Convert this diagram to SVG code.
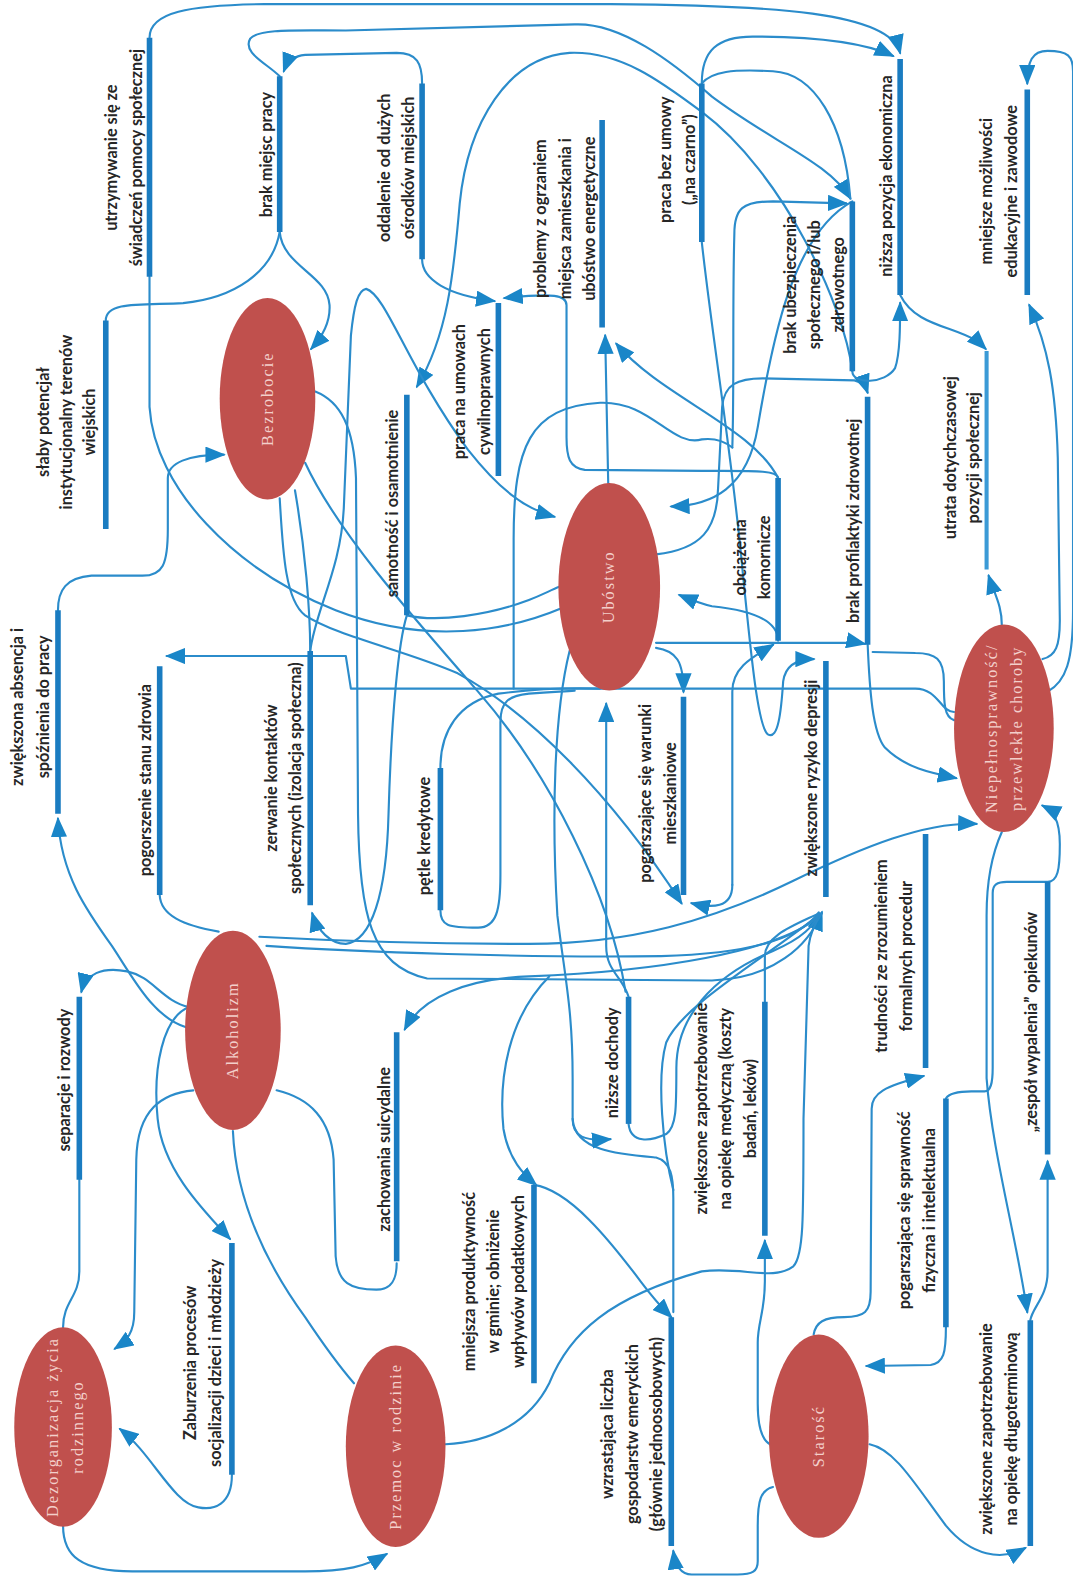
<svg xmlns="http://www.w3.org/2000/svg" width="1073" height="1595" viewBox="0 0 1073 1595">
<style>
.c{fill:none;stroke:#2b8ccb;stroke-width:2.1;stroke-linecap:round;stroke-linejoin:round}
.a{marker-end:url(#ah)}
.bar{stroke:#1a7cc1;stroke-width:5.5;stroke-linecap:butt}
.lbl{font-family:Lato,"Liberation Sans",sans-serif;font-size:16px;font-weight:bold;fill:#262626;text-anchor:middle}
.ell{fill:#c0504d}
.et{font-family:"Liberation Serif","DejaVu Serif",serif;font-size:16px;fill:#f3cfcb;text-anchor:middle;letter-spacing:2px}
</style>
<defs>
<marker id="ah" viewBox="0 0 20 16" refX="18" refY="8" markerWidth="20" markerHeight="16" markerUnits="userSpaceOnUse" orient="auto">
<path d="M0,0 L20,8 L0,16 z" fill="#1a86c8"/>
</marker>
</defs>
<rect width="1073" height="1595" fill="#ffffff"/>
<g transform="scale(1.0171)">
<g id="connectors">
<path class="c a" d="M147,37 C147,12 185,5 260,4 L600,4 C760,5 875,12 885,52"/>
<path class="c a" d="M275,75 C262,62 238,52 246,38 C254,28 290,30 340,30 L565,24 C610,22 660,60 700,95 C760,140 815,160 836,195"/>
<path class="c a" d="M415,82 C415,62 410,52 390,52 L300,54 C288,55 282,62 279,70"/>
<path class="c a" d="M690,82 C690,50 705,36 740,36 C800,36 850,42 878,55"/>
<path class="c" d="M690,82 C700,70 720,68 760,70 C800,72 830,120 836,195"/>
<path class="c a" d="M275,228 C278,262 322,270 324,300 C325,318 316,332 306,343"/>
<path class="c" d="M275,228 C268,268 230,293 180,298 C140,300 104,296 104,315"/>
<path class="c a" d="M57,600 C57,580 65,568 90,566 L140,566 C160,566 165,555 165,520 L165,470 C165,455 185,447 220,447"/>
<path class="c" d="M147,272 L147,400 C152,480 230,560 330,600 C420,635 500,620 552,598"/>
<path class="c a" d="M838,365 C830,300 770,170 690,110 C650,80 610,50 560,52 C500,56 460,120 452,200 C446,270 440,330 410,380"/>
<path class="c a" d="M415,255 C415,275 440,290 486,296"/>
<path class="c a" d="M765,470 C765,462 740,463 690,463 L575,462 C560,460 557,450 557,430 L557,300 C557,290 545,288 496,293"/>
<path class="c a" d="M598,475 L595,330"/>
<path class="c a" d="M765,470 C740,420 650,390 606,338"/>
<path class="c a" d="M720,870 L720,680 C720,655 742,645 760,634"/>
<path class="c a" d="M720,870 C720,893 700,893 680,888"/>
<path class="c a" d="M305,640 C310,600 335,560 338,500 L345,330 C348,300 352,285 360,284 C380,290 400,360 460,442 C490,480 515,500 545,508"/>
<path class="c a" d="M645,545 C690,540 705,520 706,480 L710,400 C712,378 725,372 750,372 L840,374 C848,376 851,380 853,386"/>
<path class="c a" d="M838,198 C780,230 760,330 745,420 C735,480 700,497 660,498"/>
<path class="c a" d="M765,630 C765,610 740,600 700,596 C690,594 680,590 668,585"/>
<path class="c a" d="M618,980 C612,960 596,955 596,930 L596,692"/>
<path class="c a" d="M645,637 C665,640 672,650 672,680"/>
<path class="c a" d="M938,700 C925,700 922,677 900,677 L345,677 L340,645 L164,645"/>
<path class="c" d="M290,482 C300,540 305,600 305,640"/>
<path class="c a" d="M400,605 C392,630 385,700 382,800 C380,880 365,925 340,928 C325,928 312,915 307,898"/>
<path class="c a" d="M310,385 C335,395 348,420 350,470 L352,800 C353,900 365,950 420,962 L700,964 C760,962 795,930 808,897"/>
<path class="c a" d="M275,490 C278,540 280,590 300,605 C330,625 400,640 450,662 C520,700 600,780 670,888"/>
<path class="c a" d="M255,921 C330,925 430,928 520,928 C620,928 700,905 780,866 C850,832 910,808 960,810"/>
<path class="c" d="M262,930 C350,936 520,942 650,940 C730,938 785,925 805,897"/>
<path class="c" d="M157,880 C158,900 180,910 215,916"/>
<path class="c a" d="M183,1010 C150,1000 130,960 110,930 C85,895 60,860 57,805"/>
<path class="c a" d="M186,990 C160,985 150,960 125,955 C100,950 84,958 80,975"/>
<path class="c" d="M78,1160 L78,1250 C78,1275 62,1280 62,1305"/>
<path class="c a" d="M190,1072 C160,1075 135,1090 134,1140 L132,1290 C132,1310 125,1318 113,1326"/>
<path class="c a" d="M186,990 C160,1000 150,1050 155,1100 C160,1150 200,1190 226,1218"/>
<path class="c" d="M229,1112 C232,1180 260,1240 300,1295 C320,1325 335,1345 348,1360"/>
<path class="c" d="M272,1072 C305,1080 325,1100 328,1140 L330,1235 C332,1262 345,1268 370,1268 C385,1268 390,1258 390,1242"/>
<path class="c a" d="M800,905 C760,935 650,955 520,960 C460,962 415,980 398,1012"/>
<path class="c" d="M438,1420 C480,1418 520,1400 540,1360 C560,1310 600,1275 690,1250 C730,1245 760,1260 780,1245 C790,1235 790,1200 790,1100 L795,930 C797,915 803,905 808,898"/>
<path class="c a" d="M540,960 C500,1000 490,1060 495,1110 C500,1140 515,1155 527,1165"/>
<path class="c a" d="M525,1165 C560,1170 600,1220 630,1260 C645,1280 655,1290 660,1295"/>
<path class="c" d="M563,1100 C565,1132 610,1135 645,1138 C660,1142 662,1158 662,1178 L662,1290"/>
<path class="c a" d="M62,1500 C62,1530 80,1545 130,1545 L300,1545 C340,1545 360,1540 380,1528"/>
<path class="c a" d="M760,1462 C748,1465 745,1475 745,1500 L745,1535 C745,1545 740,1548 725,1548 L680,1548 C670,1548 664,1540 662,1525"/>
<path class="c a" d="M757,1420 C748,1415 745,1400 745,1380 L745,1320 C745,1300 752,1290 752,1260 L752,1220"/>
<path class="c a" d="M800,1312 C802,1300 810,1295 830,1295 C850,1295 856,1290 856,1270 L857,1090 C857,1075 870,1068 908,1058"/>
<path class="c a" d="M930,1305 C930,1330 928,1340 915,1342 L852,1343"/>
<path class="c a" d="M930,1080 C933,1075 940,1073 955,1073 L968,1073 C974,1073 976,1065 976,1050 L976,878 C976,870 980,867 990,867 L1030,867 C1040,867 1042,855 1042,830 C1042,805 1035,797 1025,792"/>
<path class="c a" d="M985,818 C975,840 970,870 970,900 L970,1060 C975,1130 1000,1220 1010,1290"/>
<path class="c a" d="M1013,1298 C1015,1285 1030,1275 1030,1250 L1030,1142"/>
<path class="c a" d="M855,1420 C880,1425 900,1460 930,1500 C955,1530 985,1535 1008,1522"/>
<path class="c a" d="M985,615 C985,595 978,585 972,566"/>
<path class="c a" d="M1025,648 C1038,645 1042,635 1042,610 L1040,450 C1038,380 1030,340 1012,300"/>
<path class="c a" d="M1030,680 C1048,670 1055,650 1055,600 L1055,70 C1055,55 1050,50 1030,50 C1015,50 1010,60 1010,82"/>
<path class="c a" d="M885,290 C900,320 935,320 960,335 C966,338 968,342 969,343"/>
<path class="c a" d="M838,365 C838,378 870,378 880,362 C885,348 885,320 885,298"/>
<path class="c a" d="M853,632 C855,680 858,720 870,735 C890,755 915,760 940,765"/>
<path class="c" d="M938,708 C928,705 928,690 928,670 C928,648 920,642 900,642 L858,641"/>
<path class="c a" d="M645,632 L830,632 C840,632 845,632 850,633"/>
<path class="c a" d="M690,238 C700,330 720,450 730,560 C738,640 745,715 755,722 C765,728 768,700 770,670 C772,655 782,648 800,648"/>
<path class="c" d="M433,755 C433,720 450,690 490,682 C520,678 560,676 590,677"/>
<path class="c" d="M433,895 C433,910 440,912 470,912 C488,912 492,895 492,860 L492,710 C492,690 500,684 520,682 C545,680 555,680 565,679"/>
<path class="c" d="M400,605 C430,612 480,605 520,590 C535,584 542,580 550,577"/>
<path class="c" d="M300,455 C330,520 400,600 470,680 C540,760 600,880 615,975"/>
<path class="c a" d="M560,640 C545,700 542,800 548,900 C555,960 563,990 563,1060 L563,1100 C563,1118 575,1122 600,1120"/>
<path class="c" d="M618,1105 C620,1125 640,1122 655,1115 C665,1108 665,1090 665,1050 C665,1000 700,960 760,935 C790,922 800,910 806,898"/>
<path class="c" d="M752,985 L752,940 C752,920 780,910 805,898"/>
<path class="c" d="M662,1170 C652,1130 645,1060 655,1025 C670,990 740,950 805,900"/>
<path class="c a" d="M228,1450 C228,1480 210,1485 195,1482 C170,1478 150,1430 118,1405"/>
<path class="c" d="M505,677 L505,530 C505,440 520,400 590,396 C640,394 660,440 690,432 C705,430 715,436 720,440"/>
<path class="c a" d="M720,440 C722,380 720,300 722,230 C722,205 730,198 760,198 L832,200"/>
</g>
<g id="n-bezrobocie"><ellipse class="ell" cx="263" cy="392" rx="47" ry="99"/><text class="et" transform="translate(268,392) rotate(-90)">Bezrobocie</text></g>
<g id="n-ubostwo"><ellipse class="ell" cx="599" cy="577" rx="50" ry="102"/><text class="et" transform="translate(604,577) rotate(-90)">Ubóstwo</text></g>
<g id="n-niepelnosprawnosc"><ellipse class="ell" cx="987" cy="716" rx="49" ry="102"/><text class="et" transform="translate(980,716) rotate(-90)"><tspan x="0" y="0">Niepełnosprawność/</tspan><tspan x="0" y="25">przewlekłe choroby</tspan></text></g>
<g id="n-alkoholizm"><ellipse class="ell" cx="229" cy="1013" rx="47" ry="98"/><text class="et" transform="translate(234,1013) rotate(-90)">Alkoholizm</text></g>
<g id="n-dezorganizacja"><ellipse class="ell" cx="62" cy="1403" rx="48" ry="98"/><text class="et" transform="translate(57,1403) rotate(-90)"><tspan x="0" y="0">Dezorganizacja życia</tspan><tspan x="0" y="25">rodzinnego</tspan></text></g>
<g id="n-przemoc"><ellipse class="ell" cx="389" cy="1422" rx="49" ry="99"/><text class="et" transform="translate(394,1422) rotate(-90)">Przemoc w rodzinie</text></g>
<g id="n-starosc"><ellipse class="ell" cx="805" cy="1412" rx="49" ry="100"/><text class="et" transform="translate(810,1412) rotate(-90)">Starość</text></g>

<g id="f-utrzymywanie"><line class="bar" x1="147" y1="37" x2="147" y2="272"/><text class="lbl" transform="translate(115,155) rotate(-90)"><tspan x="0" y="0">utrzymywanie się ze</tspan><tspan x="0" y="25">świadczeń pomocy społecznej</tspan></text></g>
<g id="f-brak-miejsc"><line class="bar" x1="275" y1="75" x2="275" y2="228"/><text class="lbl" transform="translate(267,152) rotate(-90)">brak miejsc pracy</text></g>
<g id="f-slaby"><line class="bar" x1="104" y1="315" x2="104" y2="520"/><text class="lbl" transform="translate(48,415) rotate(-90)"><tspan x="0" y="0">słaby potencjał</tspan><tspan x="0" y="22.5">instytucjonalny terenów</tspan><tspan x="0" y="45">wiejskich</tspan></text></g>
<g id="f-oddalenie"><line class="bar" x1="415" y1="82" x2="415" y2="255"/><text class="lbl" transform="translate(383,165) rotate(-90)"><tspan x="0" y="0">oddalenie od dużych</tspan><tspan x="0" y="24">ośrodków miejskich</tspan></text></g>
<g id="f-umowy"><line class="bar" x1="490" y1="298" x2="490" y2="468"/><text class="lbl" transform="translate(457,385) rotate(-90)"><tspan x="0" y="0">praca na umowach</tspan><tspan x="0" y="25">cywilnoprawnych</tspan></text></g>
<g id="f-problemy"><line class="bar" x1="592" y1="118" x2="592" y2="322"/><text class="lbl" transform="translate(537,215) rotate(-90)"><tspan x="0" y="0">problemy z ogrzaniem</tspan><tspan x="0" y="24">miejsca zamieszkania i</tspan><tspan x="0" y="48">ubóstwo energetyczne</tspan></text></g>
<g id="f-bez-umowy"><line class="bar" x1="690" y1="82" x2="690" y2="238"/><text class="lbl" transform="translate(660,157) rotate(-90)"><tspan x="0" y="0">praca bez umowy</tspan><tspan x="0" y="23">(„na czarno”)</tspan></text></g>
<g id="f-ubezpieczenie"><line class="bar" x1="838" y1="198" x2="838" y2="365"/><text class="lbl" transform="translate(783,280) rotate(-90)"><tspan x="0" y="0">brak ubezpieczenia</tspan><tspan x="0" y="23.5">społecznego i/lub</tspan><tspan x="0" y="47">zdrowotnego</tspan></text></g>
<g id="f-nizsza-pozycja"><line class="bar" x1="885" y1="58" x2="885" y2="290"/><text class="lbl" transform="translate(877,173) rotate(-90)">niższa pozycja ekonomiczna</text></g>
<g id="f-mniejsze"><line class="bar" x1="1010" y1="88" x2="1010" y2="290"/><text class="lbl" transform="translate(975,188) rotate(-90)"><tspan x="0" y="0">mniejsze możliwości</tspan><tspan x="0" y="25">edukacyjne i zawodowe</tspan></text></g>
<g id="f-utrata"><line class="bar" x1="970" y1="345" x2="970" y2="560" style="stroke:#3b9ad6;stroke-width:4"/><text class="lbl" transform="translate(940,450) rotate(-90)"><tspan x="0" y="0">utrata dotychczasowej</tspan><tspan x="0" y="23">pozycji społecznej</tspan></text></g>
<g id="f-profilaktyka"><line class="bar" x1="853" y1="390" x2="853" y2="634"/><text class="lbl" transform="translate(845,512) rotate(-90)">brak profilaktyki zdrowotnej</text></g>
<g id="f-samotnosc"><line class="bar" x1="400" y1="388" x2="400" y2="605"/><text class="lbl" transform="translate(391,495) rotate(-90)">samotność i osamotnienie</text></g>
<g id="f-obciazenia"><line class="bar" x1="765" y1="470" x2="765" y2="630"/><text class="lbl" transform="translate(733,548) rotate(-90)"><tspan x="0" y="0">obciążenia</tspan><tspan x="0" y="24">komornicze</tspan></text></g>
<g id="f-absencja"><line class="bar" x1="57" y1="600" x2="57" y2="800"/><text class="lbl" transform="translate(23,695) rotate(-90)"><tspan x="0" y="0">zwiększona absencja i</tspan><tspan x="0" y="25">spóźnienia do pracy</tspan></text></g>
<g id="f-pogorszenie"><line class="bar" x1="157" y1="655" x2="157" y2="880"/><text class="lbl" transform="translate(148,767) rotate(-90)">pogorszenie stanu zdrowia</text></g>
<g id="f-zerwanie"><line class="bar" x1="305" y1="640" x2="305" y2="890"/><text class="lbl" transform="translate(272,765) rotate(-90)"><tspan x="0" y="0">zerwanie kontaktów</tspan><tspan x="0" y="24">społecznych (izolacja społeczna)</tspan></text></g>
<g id="f-petle"><line class="bar" x1="433" y1="755" x2="433" y2="895"/><text class="lbl" transform="translate(423,822) rotate(-90)">pętle kredytowe</text></g>
<g id="f-warunki"><line class="bar" x1="672" y1="685" x2="672" y2="880"/><text class="lbl" transform="translate(640,780) rotate(-90)"><tspan x="0" y="0">pogarszające się warunki</tspan><tspan x="0" y="25">mieszkaniowe</tspan></text></g>
<g id="f-depresja"><line class="bar" x1="812" y1="650" x2="812" y2="882"/><text class="lbl" transform="translate(803,765) rotate(-90)">zwiększone ryzyko depresji</text></g>
<g id="f-trudnosci"><line class="bar" x1="910" y1="820" x2="910" y2="1050"/><text class="lbl" transform="translate(872,940) rotate(-90)"><tspan x="0" y="0">trudności ze zrozumieniem</tspan><tspan x="0" y="25">formalnych procedur</tspan></text></g>
<g id="f-wypalenie"><line class="bar" x1="1030" y1="867" x2="1030" y2="1135"/><text class="lbl" transform="translate(1020,1005) rotate(-90)">„zespół wypalenia” opiekunów</text></g>
<g id="f-separacje"><line class="bar" x1="78" y1="980" x2="78" y2="1160"/><text class="lbl" transform="translate(69,1062) rotate(-90)">separacje i rozwody</text></g>
<g id="f-dochody"><line class="bar" x1="618" y1="980" x2="618" y2="1105"/><text class="lbl" transform="translate(608,1045) rotate(-90)">niższe dochody</text></g>
<g id="f-suicydalne"><line class="bar" x1="390" y1="1015" x2="390" y2="1240"/><text class="lbl" transform="translate(383,1130) rotate(-90)">zachowania suicydalne</text></g>
<g id="f-medyczne"><line class="bar" x1="752" y1="985" x2="752" y2="1215"/><text class="lbl" transform="translate(695,1090) rotate(-90)"><tspan x="0" y="0">zwiększone zapotrzebowanie</tspan><tspan x="0" y="24">na opiekę medyczną (koszty</tspan><tspan x="0" y="48">badań, leków)</tspan></text></g>
<g id="f-sprawnosc"><line class="bar" x1="930" y1="1080" x2="930" y2="1305"/><text class="lbl" transform="translate(895,1190) rotate(-90)"><tspan x="0" y="0">pogarszająca się sprawność</tspan><tspan x="0" y="24">fizyczna i intelektualna</tspan></text></g>
<g id="f-produktywnosc"><line class="bar" x1="525" y1="1165" x2="525" y2="1360"/><text class="lbl" transform="translate(467,1260) rotate(-90)"><tspan x="0" y="0">mniejsza produktywność</tspan><tspan x="0" y="24">w gminie; obniżenie</tspan><tspan x="0" y="48">wpływów podatkowych</tspan></text></g>
<g id="f-emeryckie"><line class="bar" x1="660" y1="1295" x2="660" y2="1520"/><text class="lbl" transform="translate(603,1410) rotate(-90)"><tspan x="0" y="0">wzrastająca liczba</tspan><tspan x="0" y="24">gospodarstw emeryckich</tspan><tspan x="0" y="48">(głównie jednoosobowych)</tspan></text></g>
<g id="f-zaburzenia"><line class="bar" x1="228" y1="1222" x2="228" y2="1450"/><text class="lbl" transform="translate(193,1340) rotate(-90)"><tspan x="0" y="0">Zaburzenia procesów</tspan><tspan x="0" y="24">socjalizacji dzieci i młodzieży</tspan></text></g>
<g id="f-dlugoterminowa"><line class="bar" x1="1013" y1="1298" x2="1013" y2="1520"/><text class="lbl" transform="translate(975,1405) rotate(-90)"><tspan x="0" y="0">zwiększone zapotrzebowanie</tspan><tspan x="0" y="25">na opiekę długoterminową</tspan></text></g>
</g>
</svg>
